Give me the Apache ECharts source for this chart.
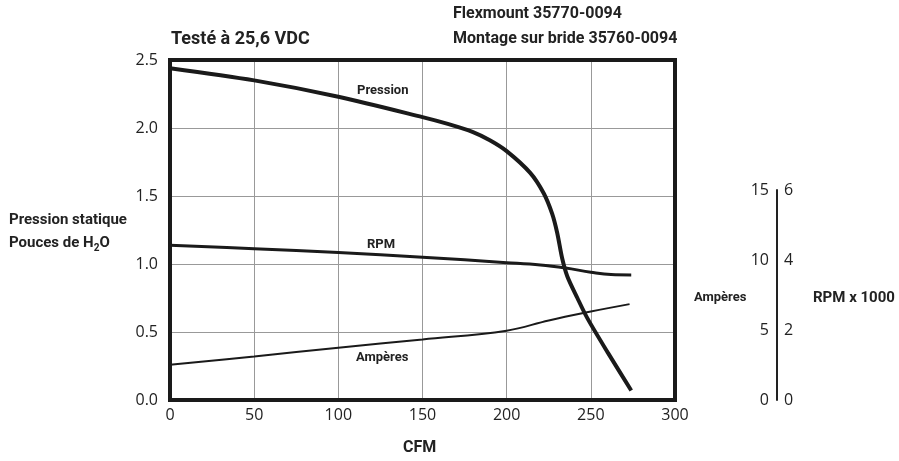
<!DOCTYPE html>
<html>
<head>
<meta charset="utf-8">
<script src="https://cdn.jsdelivr.net/npm/echarts@6/dist/echarts.min.js"></script>
<style>
  html, body { margin: 0; padding: 0; background: #fff; }
  #main { width: 899px; height: 461px; }
</style>
</head>
<body>
<div id="main"></div>
<script>
// courbes (CFM -> valeur)
let pressionCfm = [0, 50, 100, 150, 165, 180, 190, 200, 214, 222, 227, 230, 233, 236, 242, 248, 260, 274];
let pressionVal = [2.44, 2.35, 2.23, 2.08, 2.03, 1.97, 1.91, 1.83, 1.67, 1.52, 1.37, 1.23, 1.04, 0.91, 0.75, 0.60, 0.35, 0.07];

let rpmCfm = [0, 50, 100, 150, 200, 220, 235, 250, 262, 274];
let rpmVal = [4.55, 4.45, 4.34, 4.20, 4.04, 3.97, 3.88, 3.76, 3.69, 3.68]; // x1000

let ampCfm = [0, 50, 100, 150, 200, 225, 250, 273];
let ampVal = [2.6, 3.2, 3.85, 4.45, 5.1, 5.85, 6.5, 7.05];

let cfmTicks = [0, 50, 100, 150, 200, 250, 300];
let pressionTicks = [0, 0.5, 1.0, 1.5, 2.0, 2.5];
let ampTicks = [0, 5, 10, 15];
let rpmTicks = [0, 2, 4, 6];

function pairs(xs, ys) {
    return xs.map(function (x, i) { return [x, ys[i]]; });
}

var chart = echarts.init(document.getElementById('main'));

var tickFont = { fontFamily: 'Open Sans', fontSize: 16, color: '#222' };
var boldFont = 'Roboto, sans-serif';

option = {
    animation: false,
    grid: [
        { left: 170, top: 60, width: 505, bottom: 61, show: true, borderColor: '#1a1a1a', borderWidth: 4, z: 3 },
        { left: 777, top: 190, width: 1, bottom: 61 }
    ],
    xAxis: [
        {
            type: 'value', gridIndex: 0, min: 0, max: 300, interval: 50,
            axisLine: { show: false }, axisTick: { show: false },
            axisLabel: Object.assign({ margin: 7 }, tickFont),
            splitLine: { lineStyle: { color: '#999', width: 1 } }
        },
        { type: 'value', gridIndex: 1, show: false, min: 0, max: 1 }
    ],
    yAxis: [
        {
            type: 'value', gridIndex: 0, min: 0, max: 2.5, interval: 0.5,
            axisLine: { show: false }, axisTick: { show: false },
            axisLabel: Object.assign({ margin: 12, formatter: function (v) { return v.toFixed(1); } }, tickFont),
            splitLine: { lineStyle: { color: '#999', width: 1 } }
        },
        // échelles cachées, alignées sur la grille principale
        { type: 'value', gridIndex: 0, min: 0, max: 10, show: false, splitLine: { show: false } },
        { type: 'value', gridIndex: 0, min: 0, max: 25, show: false, splitLine: { show: false } },
        // échelle affichée à droite
        {
            type: 'value', gridIndex: 1, position: 'left', min: 0, max: 15, interval: 5,
            axisLine: { show: true, lineStyle: { color: '#222', width: 2 } },
            axisTick: { show: false }, splitLine: { show: false },
            axisLabel: Object.assign({ margin: 8 }, tickFont)
        },
        {
            type: 'value', gridIndex: 1, position: 'right', min: 0, max: 6, interval: 2,
            axisLine: { show: false }, axisTick: { show: false }, splitLine: { show: false },
            axisLabel: Object.assign({ margin: 6 }, tickFont)
        }
    ],
    series: [
        {
            name: 'Pression', type: 'line', xAxisIndex: 0, yAxisIndex: 0,
            data: pairs(pressionCfm, pressionVal), smooth: 0.3, symbol: 'none',
            lineStyle: { color: '#1a1a1a', width: 4 }, z: 4
        },
        {
            name: 'RPM', type: 'line', xAxisIndex: 0, yAxisIndex: 1,
            data: pairs(rpmCfm, rpmVal), smooth: 0.4, symbol: 'none',
            lineStyle: { color: '#1a1a1a', width: 3 }, z: 4
        },
        {
            name: 'Ampères', type: 'line', xAxisIndex: 0, yAxisIndex: 2,
            data: pairs(ampCfm, ampVal), smooth: 0.4, symbol: 'none',
            lineStyle: { color: '#1a1a1a', width: 2 }, z: 4
        }
    ],
    graphic: [
        { type: 'text', left: 171, top: 30, style: { text: 'Testé à 25,6 VDC', font: 'bold 18px ' + boldFont, fill: '#222' } },
        { type: 'text', left: 453, top: 6, style: { text: 'Flexmount 35770-0094', font: 'bold 16px ' + boldFont, fill: '#222' } },
        { type: 'text', left: 453, top: 31, style: { text: 'Montage sur bride 35760-0094', font: 'bold 16px ' + boldFont, fill: '#222' } },
        { type: 'text', left: 357, top: 84, style: { text: 'Pression', font: 'bold 13px ' + boldFont, fill: '#222' } },
        { type: 'text', left: 367, top: 238, style: { text: 'RPM', font: 'bold 13px ' + boldFont, fill: '#222' } },
        { type: 'text', left: 356, top: 351, style: { text: 'Ampères', font: 'bold 13px ' + boldFont, fill: '#222' } },
        { type: 'text', left: 9, top: 213, style: { text: 'Pression statique', font: 'bold 15px ' + boldFont, fill: '#222' } },
        {
            type: 'text', left: 9, top: 236,
            style: {
                text: '{a|Pouces de H}{s|2}{a|O}',
                rich: {
                    a: { font: 'bold 15px ' + boldFont, fill: '#222' },
                    s: { font: 'bold 10px ' + boldFont, fill: '#222', padding: [9, 0, 0, 0] }
                }
            }
        },
        { type: 'text', left: 403, top: 440, style: { text: 'CFM', font: 'bold 16px ' + boldFont, fill: '#222' } },
        { type: 'text', left: 694, top: 291, style: { text: 'Ampères', font: 'bold 13px ' + boldFont, fill: '#222' } },
        { type: 'text', left: 813, top: 291, style: { text: 'RPM x 1000', font: 'bold 15px ' + boldFont, fill: '#222' } }
    ]
};

chart.setOption(option);
</script>
</body>
</html>
